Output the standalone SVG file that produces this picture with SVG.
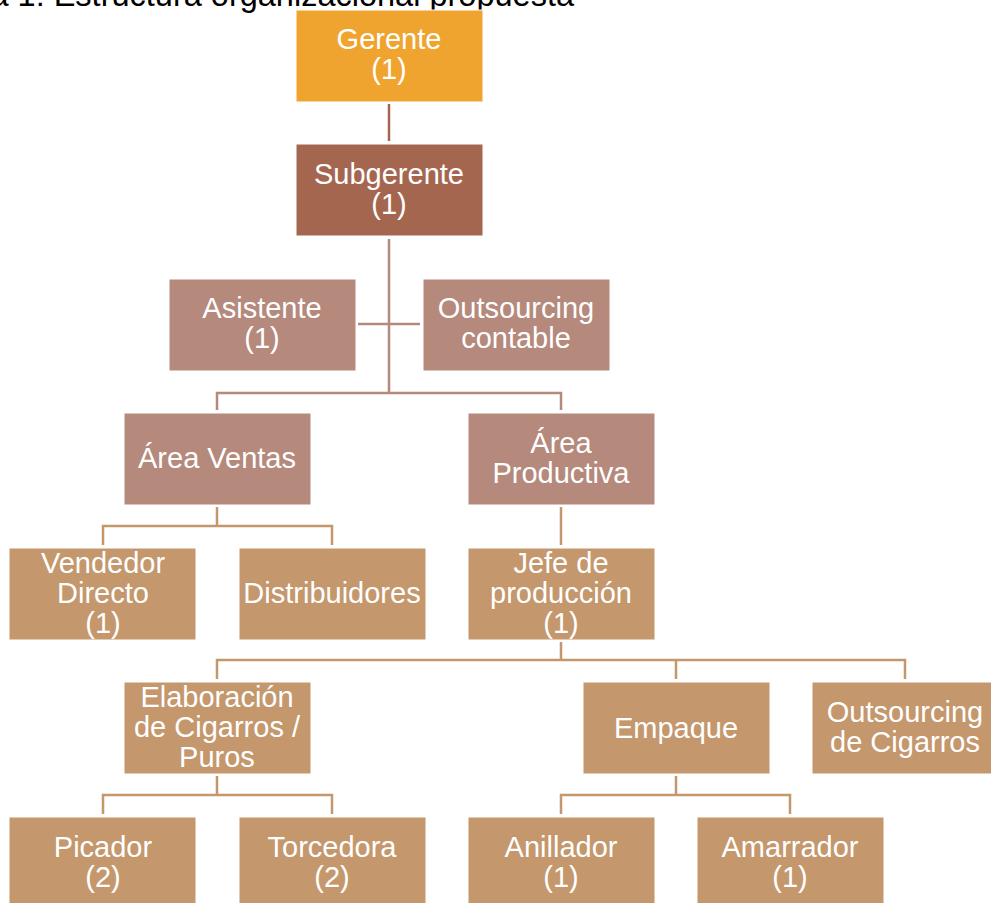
<svg xmlns="http://www.w3.org/2000/svg" width="991" height="903" viewBox="0 0 991 903">
<style>
text{font-family:"Liberation Sans",Arial,sans-serif;}
.t{font-size:29px;fill:#fff;text-anchor:middle;}
.box{stroke:#fff;stroke-width:1}
.c0{fill:#F0A430}.c1{fill:#A5664F}.c2{fill:#B5897C}.c3{fill:#C4976D}
.l1{stroke:#A5664F;stroke-width:2.5;fill:none}
.l2{stroke:#B5897C;stroke-width:2.5;fill:none}
.l3{stroke:#C4976D;stroke-width:2.5;fill:none}
</style>
<rect width="991" height="903" fill="#fff"/>
<text x="574" y="6" font-size="32.5" fill="#000" text-anchor="end">Figura 1: Estructura organizacional propuesta</text>
<g id="connectors">
<path class="l1" d="M389 104V141"/>
<path class="l2" d="M389 239V393M358 324H420M217 410V393H561V410"/>
<path class="l3" d="M217 507V526M103 545V526H332V545"/>
<path class="l3" d="M561 507V545"/>
<path class="l3" d="M561 642V660M217 679V660H905V679M676 660V679"/>
<path class="l3" d="M217 776V795M103 814V795H332V814"/>
<path class="l3" d="M676 776V795M561 814V795H790V814"/>
</g>
<g id="gerente"><rect class="box c0" x="296" y="10" width="187" height="92"/><text class="t" x="389" y="49">Gerente</text><text class="t" x="389" y="79">(1)</text></g>
<g id="subgerente"><rect class="box c1" x="296" y="144" width="187" height="92"/><text class="t" x="389" y="184">Subgerente</text><text class="t" x="389" y="214">(1)</text></g>
<g id="asistente"><rect class="box c2" x="169" y="279" width="187" height="92"/><text class="t" x="262" y="318">Asistente</text><text class="t" x="262" y="348">(1)</text></g>
<g id="outsourcing-contable"><rect class="box c2" x="423" y="279" width="187" height="92"/><text class="t" x="516" y="318">Outsourcing</text><text class="t" x="516" y="348">contable</text></g>
<g id="area-ventas"><rect class="box c2" x="124" y="413" width="187" height="92"/><text class="t" x="217" y="468">Área Ventas</text></g>
<g id="area-productiva"><rect class="box c2" x="468" y="413" width="187" height="92"/><text class="t" x="561" y="453">Área</text><text class="t" x="561" y="483">Productiva</text></g>
<g id="vendedor-directo"><rect class="box c3" x="9" y="548" width="187" height="92"/><text class="t" x="103" y="573">Vendedor</text><text class="t" x="103" y="603">Directo</text><text class="t" x="103" y="633">(1)</text></g>
<g id="distribuidores"><rect class="box c3" x="239" y="548" width="187" height="92"/><text class="t" x="332" y="603">Distribuidores</text></g>
<g id="jefe-produccion"><rect class="box c3" x="468" y="548" width="187" height="92"/><text class="t" x="561" y="573">Jefe de</text><text class="t" x="561" y="603">producción</text><text class="t" x="561" y="633">(1)</text></g>
<g id="elaboracion"><rect class="box c3" x="124" y="682" width="187" height="92"/><text class="t" x="217" y="707">Elaboración</text><text class="t" x="217" y="737">de Cigarros /</text><text class="t" x="217" y="767">Puros</text></g>
<g id="empaque"><rect class="box c3" x="583" y="682" width="187" height="92"/><text class="t" x="676" y="738">Empaque</text></g>
<g id="outsourcing-cigarros"><rect class="box c3" x="812" y="682" width="187" height="92"/><text class="t" x="905" y="722">Outsourcing</text><text class="t" x="905" y="752">de Cigarros</text></g>
<g id="picador"><rect class="box c3" x="9" y="817" width="187" height="92"/><text class="t" x="103" y="857">Picador</text><text class="t" x="103" y="887">(2)</text></g>
<g id="torcedora"><rect class="box c3" x="239" y="817" width="187" height="92"/><text class="t" x="332" y="857">Torcedora</text><text class="t" x="332" y="887">(2)</text></g>
<g id="anillador"><rect class="box c3" x="468" y="817" width="187" height="92"/><text class="t" x="561" y="857">Anillador</text><text class="t" x="561" y="887">(1)</text></g>
<g id="amarrador"><rect class="box c3" x="697" y="817" width="187" height="92"/><text class="t" x="790" y="857">Amarrador</text><text class="t" x="790" y="887">(1)</text></g>
</svg>
